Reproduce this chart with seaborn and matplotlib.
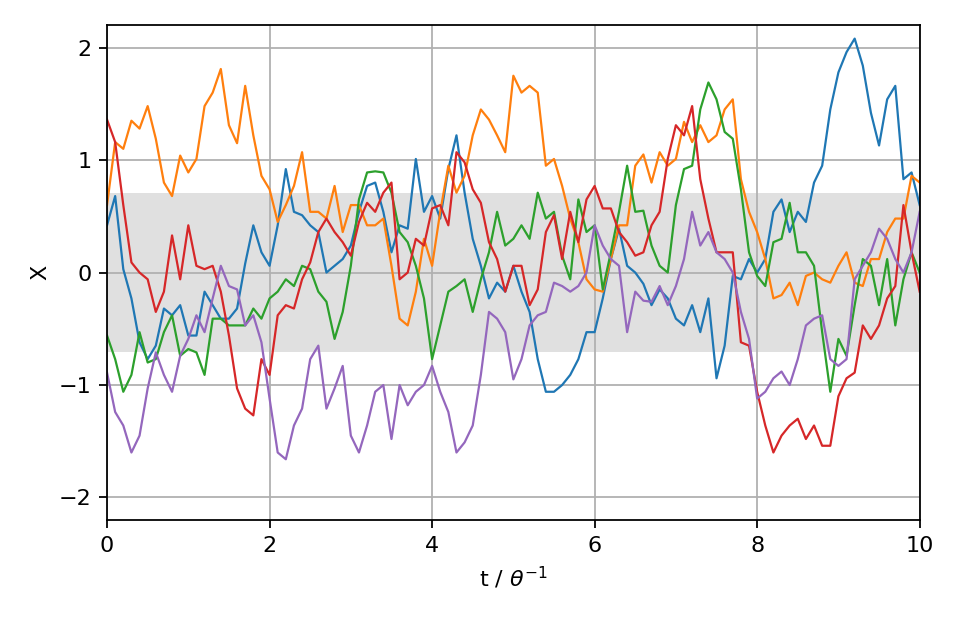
import numpy as np
import pandas as pd
import matplotlib
matplotlib.use("Agg")
import matplotlib.pyplot as plt
import seaborn as sns

# time axis in units of 1/theta, values every 0.1
t = [round(0.1 * i, 1) for i in range(101)]

run_blue = [
    0.42, 0.68, 0.03, -0.23, -0.62, -0.77, -0.65, -0.32, -0.38, -0.29,
    -0.56, -0.56, -0.17, -0.29, -0.41, -0.41, -0.32, 0.08, 0.42, 0.18,
    0.06, 0.42, 0.92, 0.54, 0.51, 0.42, 0.36, 0.00, 0.06, 0.12,
    0.24, 0.54, 0.77, 0.80, 0.54, 0.18, 0.42, 0.39, 1.01, 0.54,
    0.68, 0.48, 0.92, 1.22, 0.71, 0.30, 0.06, -0.23, -0.09, -0.17,
    0.06, -0.17, -0.35, -0.77, -1.06, -1.06, -1.00, -0.91, -0.77, -0.53,
    -0.53, -0.23, 0.12, 0.39, 0.06, 0.00, -0.10, -0.29, -0.15, -0.23,
    -0.41, -0.47, -0.29, -0.53, -0.23, -0.94, -0.65, -0.03, -0.06, 0.12,
    0.00, 0.12, 0.54, 0.65, 0.36, 0.54, 0.45, 0.80, 0.95, 1.45,
    1.78, 1.96, 2.08, 1.84, 1.42, 1.13, 1.54, 1.66, 0.83, 0.89,
    0.60,
]

run_orange = [
    0.60, 1.16, 1.10, 1.35, 1.28, 1.48, 1.19, 0.80, 0.68, 1.04,
    0.89, 1.01, 1.48, 1.60, 1.81, 1.31, 1.15, 1.66, 1.22, 0.86,
    0.74, 0.45, 0.60, 0.77, 1.07, 0.54, 0.54, 0.48, 0.77, 0.36,
    0.60, 0.60, 0.42, 0.42, 0.48, 0.06, -0.41, -0.47, -0.17, 0.30,
    0.06, 0.54, 0.95, 0.71, 0.86, 1.22, 1.45, 1.36, 1.22, 1.07,
    1.75, 1.60, 1.66, 1.60, 0.95, 1.01, 0.77, 0.48, 0.27, -0.06,
    -0.15, -0.17, 0.12, 0.42, 0.42, 0.95, 1.05, 0.80, 1.07, 0.95,
    1.01, 1.34, 1.16, 1.31, 1.16, 1.22, 1.45, 1.54, 0.83, 0.54,
    0.36, 0.12, -0.23, -0.20, -0.09, -0.29, -0.03, 0.00, -0.06, -0.09,
    0.06, 0.18, -0.09, -0.12, 0.12, 0.12, 0.36, 0.48, 0.48, 0.86,
    0.80,
]

run_green = [
    -0.56, -0.77, -1.06, -0.91, -0.53, -0.80, -0.77, -0.53, -0.38, -0.74,
    -0.68, -0.71, -0.91, -0.41, -0.41, -0.47, -0.47, -0.47, -0.32, -0.41,
    -0.23, -0.17, -0.06, -0.12, 0.06, 0.03, -0.17, -0.26, -0.59, -0.35,
    0.06, 0.65, 0.89, 0.90, 0.89, 0.71, 0.36, 0.27, 0.06, -0.23,
    -0.77, -0.47, -0.17, -0.12, -0.06, -0.35, -0.06, 0.18, 0.54, 0.24,
    0.30, 0.42, 0.30, 0.71, 0.48, 0.54, 0.15, -0.06, 0.65, 0.36,
    0.42, -0.15, 0.18, 0.54, 0.95, 0.54, 0.55, 0.24, 0.06, 0.00,
    0.60, 0.92, 0.95, 1.45, 1.69, 1.54, 1.25, 1.19, 0.74, 0.18,
    -0.03, -0.12, 0.27, 0.30, 0.62, 0.18, 0.18, 0.06, -0.53, -1.06,
    -0.59, -0.74, -0.29, 0.12, 0.06, -0.29, 0.12, -0.47, -0.06, 0.18,
    0.00,
]

run_red = [
    1.36, 1.16, 0.60, 0.09, 0.00, -0.06, -0.35, -0.17, 0.33, -0.06,
    0.42, 0.06, 0.03, 0.06, -0.17, -0.56, -1.03, -1.21, -1.27, -0.77,
    -0.91, -0.38, -0.29, -0.32, -0.06, 0.09, 0.36, 0.48, 0.36, 0.27,
    0.15, 0.45, 0.62, 0.54, 0.71, 0.80, -0.06, 0.00, 0.30, 0.24,
    0.57, 0.60, 0.42, 1.07, 0.98, 0.74, 0.62, 0.27, 0.12, -0.17,
    0.06, 0.06, -0.29, -0.15, 0.36, 0.51, 0.12, 0.54, 0.27, 0.65,
    0.77, 0.57, 0.57, 0.36, 0.27, 0.15, 0.18, 0.42, 0.54, 1.01,
    1.31, 1.22, 1.48, 0.83, 0.48, 0.18, 0.18, 0.18, -0.62, -0.65,
    -1.06, -1.36, -1.60, -1.45, -1.36, -1.30, -1.48, -1.36, -1.54, -1.54,
    -1.10, -0.94, -0.89, -0.47, -0.59, -0.47, -0.23, -0.12, 0.60, 0.18,
    -0.17,
]

run_purple = [
    -0.89, -1.24, -1.36, -1.60, -1.45, -1.03, -0.71, -0.91, -1.06, -0.74,
    -0.59, -0.38, -0.53, -0.23, 0.06, -0.12, -0.15, -0.47, -0.38, -0.62,
    -1.12, -1.60, -1.66, -1.36, -1.21, -0.77, -0.65, -1.21, -1.03, -0.83,
    -1.45, -1.60, -1.36, -1.06, -1.00, -1.48, -1.00, -1.18, -1.06, -1.00,
    -0.83, -1.06, -1.24, -1.60, -1.51, -1.36, -0.91, -0.35, -0.41, -0.53,
    -0.95, -0.77, -0.47, -0.38, -0.35, -0.09, -0.12, -0.17, -0.12, 0.00,
    0.42, 0.24, 0.12, 0.06, -0.53, -0.17, -0.25, -0.26, -0.12, -0.29,
    -0.12, 0.12, 0.54, 0.24, 0.36, 0.18, 0.12, 0.00, -0.35, -0.59,
    -1.12, -1.06, -0.94, -0.88, -1.00, -0.77, -0.47, -0.41, -0.38, -0.77,
    -0.83, -0.77, -0.06, 0.06, 0.18, 0.39, 0.30, 0.12, 0.00, 0.18,
    0.54,
]

runs = [run_blue, run_orange, run_green, run_red, run_purple]

# stationary std of the OU process (sigma / sqrt(2 theta))
band = 1 / np.sqrt(2)

# long table for seaborn
df = pd.concat(
    [pd.DataFrame({"t": t, "X": r, "run": i}) for i, r in enumerate(runs)],
    ignore_index=True,
)

fig, ax = plt.subplots(figsize=(6, 3.925), dpi=160)
fig.subplots_adjust(left=0.1115, right=0.958, top=0.960, bottom=0.172)

ax.axhspan(-band, band, color="#e0e0e0", lw=0, zorder=0)
sns.lineplot(data=df, x="t", y="X", hue="run", palette="tab10",
             hue_order=[0, 1, 2, 3, 4], estimator=None, sort=False,
             lw=1, legend=False, ax=ax)

ax.set_xlim(0, 10)
ax.set_ylim(-2.2, 2.2)
ax.set_yticks([-2, -1, 0, 1, 2])
ax.grid(True, color="#b0b0b0", lw=0.8)
ax.set_xlabel(r"t / $\theta^{-1}$")
ax.set_ylabel("X")

fig.savefig("out.png", dpi=160)
